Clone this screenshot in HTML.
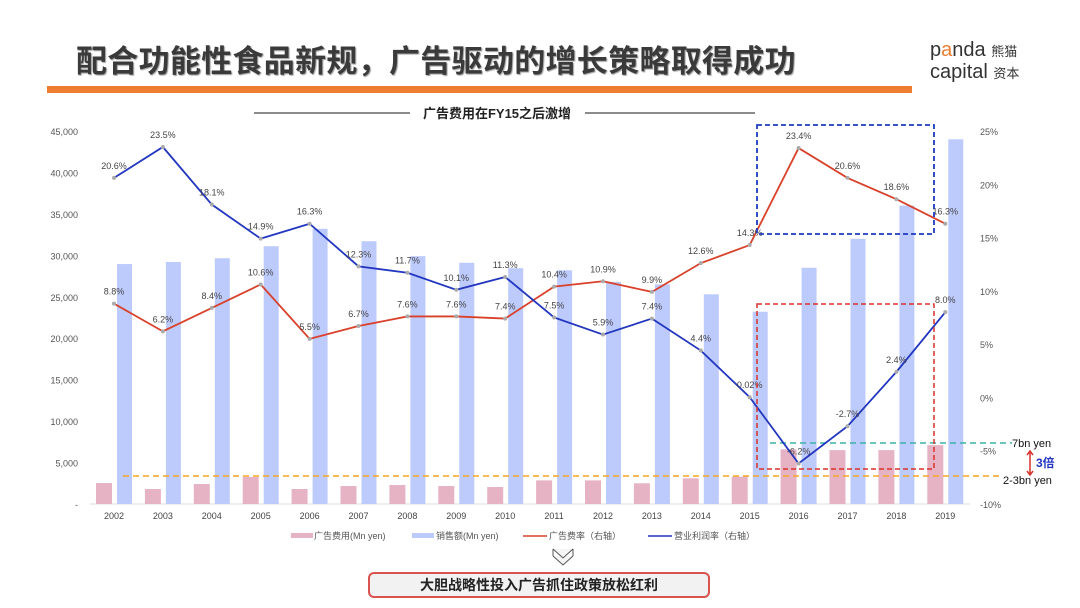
<!DOCTYPE html>
<html><head><meta charset="utf-8"><style>
body{margin:0;width:1080px;height:608px;background:#fff;overflow:hidden;font-family:"Liberation Sans","Noto Sans CJK SC",sans-serif;position:relative}
.t{position:absolute}
</style></head><body>
<div class="t" style="left:76px;top:36px;font-size:31px;font-weight:bold;color:#3a3a3a;letter-spacing:0.3px;text-shadow:1px 1px 1px #999">配合功能性食品新规，广告驱动的增长策略取得成功</div>
<div class="t" style="left:47px;top:86px;width:865px;height:7px;background:#ed7d31"></div>
<div class="t" style="left:930px;top:40px;font-size:20px;line-height:21px;color:#333">p<span style="color:#ed7d31">a</span>nda <span style="font-size:13px">熊猫</span><br>capital <span style="font-size:13px">资本</span></div>
<svg id="c" width="1080" height="608" style="position:absolute;left:0;top:0"></svg>
<div class="t" style="left:368px;top:572px;width:342px;height:26px;border:2px solid #d9534f;border-radius:6px;background:#f2f2f2;box-sizing:border-box;text-align:center;font-size:14px;font-weight:bold;line-height:22px;color:#222">大胆战略性投入广告抓住政策放松红利</div>
<script>
const years=['2002','2003','2004','2005','2006','2007','2008','2009','2010','2011','2012','2013','2014','2015','2016','2017','2018','2019'];
const adSpend=[2530,1810,2410,3260,1810,2170,2290,2170,2050,2850,2850,2500,3100,3300,6600,6500,6500,7100];
const sales=[28950,29200,29650,31100,33200,31700,29900,29100,28450,28200,26800,26500,25300,23200,28500,32000,36000,44000];
const adRate=[8.8,6.2,8.4,10.6,5.5,6.7,7.6,7.6,7.4,10.4,10.9,9.9,12.6,14.3,23.4,20.6,18.6,16.3];
const opMargin=[20.6,23.5,18.1,14.9,16.3,12.3,11.7,10.1,11.3,7.5,5.9,7.4,4.4,0.02,-6.2,-2.7,2.4,8.0];
const leftTicks=[0,5000,10000,15000,20000,25000,30000,35000,40000,45000];
const rightTicks=[-10,-5,0,5,10,15,20,25];
const svg=document.getElementById('c');const NS='http://www.w3.org/2000/svg';
function el(t,a,txt){const e=document.createElementNS(NS,t);for(const k in a)e.setAttribute(k,a[k]);if(txt!==undefined)e.textContent=txt;svg.appendChild(e);return e;}
const X=i=>114+48.9*i;
const YL=v=>504-v/45000*373;
const YR=v=>504-(v+10)/35*373;
let e;
e=el('line',{x1:254,y1:113,x2:410,y2:113,stroke:'#666','stroke-width':1.5});

e=el('line',{x1:585,y1:113,x2:755,y2:113,stroke:'#666','stroke-width':1.5});

e=el('text',{x:497,y:118,'text-anchor':'middle','font-size':13,'font-weight':'bold',fill:'#222'},'广告费用在FY15之后激增');

leftTicks.forEach(v=>{e=el('text',{x:78,y:YL(v)+4,'text-anchor':'end','font-size':9,fill:'#555'},v===0?'-':v.toLocaleString('en-US'));
});
rightTicks.forEach(v=>{e=el('text',{x:980,y:YR(v)+4,'font-size':9,fill:'#555'},v+'%');
});
e=el('line',{x1:90,y1:504,x2:970,y2:504,stroke:'#ddd','stroke-width':1});

years.forEach((y,i)=>{
e=el('rect',{x:X(i)-18,y:YL(adSpend[i]),width:16,height:504-YL(adSpend[i]),fill:'#e6b3c5'});

e=el('rect',{x:X(i)+3,y:YL(sales[i]),width:15,height:504-YL(sales[i]),fill:'#bdcafc'});

e=el('text',{x:X(i),y:519,'text-anchor':'middle','font-size':9,fill:'#444'},y);

});
e=el('line',{x1:123,y1:476,x2:1000,y2:476,stroke:'#f5a623','stroke-width':1.5,'stroke-dasharray':'6,4'});

e=el('line',{x1:770,y1:443,x2:1012,y2:443,stroke:'#3bb3a8','stroke-width':1.5,'stroke-dasharray':'6,4'});

function series(vals,color,name,dy){
const pts=vals.map((v,i)=>X(i)+','+YR(v)).join(' ');
e=el('polyline',{points:pts,fill:'none',stroke:color,'stroke-width':1.8});

vals.forEach((v,i)=>{
e=el('circle',{cx:X(i),cy:YR(v),r:2,fill:'#aaa'});

e=el('text',{x:X(i),y:YR(v)-dy,'text-anchor':'middle','font-size':9,fill:'#444'},(v===0.02?'0.02':v.toFixed(1))+'%');

});}
series(adRate,'#d9412b','ad-rate',9);
series(opMargin,'#2236c0','op-margin',9);
e=el('rect',{x:757,y:125,width:177,height:109,fill:'none',stroke:'#1f3bbf','stroke-width':1.8,'stroke-dasharray':'5,3'});

e=el('rect',{x:757,y:304,width:177,height:165,fill:'none',stroke:'#d9322b','stroke-width':1.5,'stroke-dasharray':'5,3'});

e=el('text',{x:1012,y:447,'font-size':11,fill:'#111'},'7bn yen');

e=el('text',{x:1003,y:484,'font-size':11,fill:'#111'},'2-3bn yen');

e=el('path',{d:'M1030 452 V474 M1027 455 L1030 451 L1033 455 M1027 471 L1030 475 L1033 471',stroke:'#d9322b','stroke-width':1.5,fill:'none'});

e=el('text',{x:1036,y:467,'font-size':12,'font-weight':'bold',fill:'#2236c0'},'3倍');

e=el('rect',{x:291,y:533,width:22,height:5,fill:'#e6b3c5'});
e=el('text',{x:314,y:539,'font-size':9,fill:'#555'},'广告费用(Mn yen)');
e=el('rect',{x:412,y:533,width:22,height:5,fill:'#bdcafc'});
e=el('text',{x:436,y:539,'font-size':9,fill:'#555'},'销售额(Mn yen)');
e=el('line',{x1:523,y1:536,x2:547,y2:536,stroke:'#d9412b','stroke-width':1.5});
e=el('text',{x:549,y:539,'font-size':9,fill:'#555'},'广告费率（右轴）');
e=el('line',{x1:648,y1:536,x2:672,y2:536,stroke:'#2236c0','stroke-width':1.5});
e=el('text',{x:674,y:539,'font-size':9,fill:'#555'},'营业利润率（右轴）');
e=el('path',{d:'M553 549 L563 558 L573 549 M553 556 L563 565 L573 556 M553 549 V556 M573 549 V556',stroke:'#555','stroke-width':1,fill:'#f4f4f4'});

</script>
</body></html>
